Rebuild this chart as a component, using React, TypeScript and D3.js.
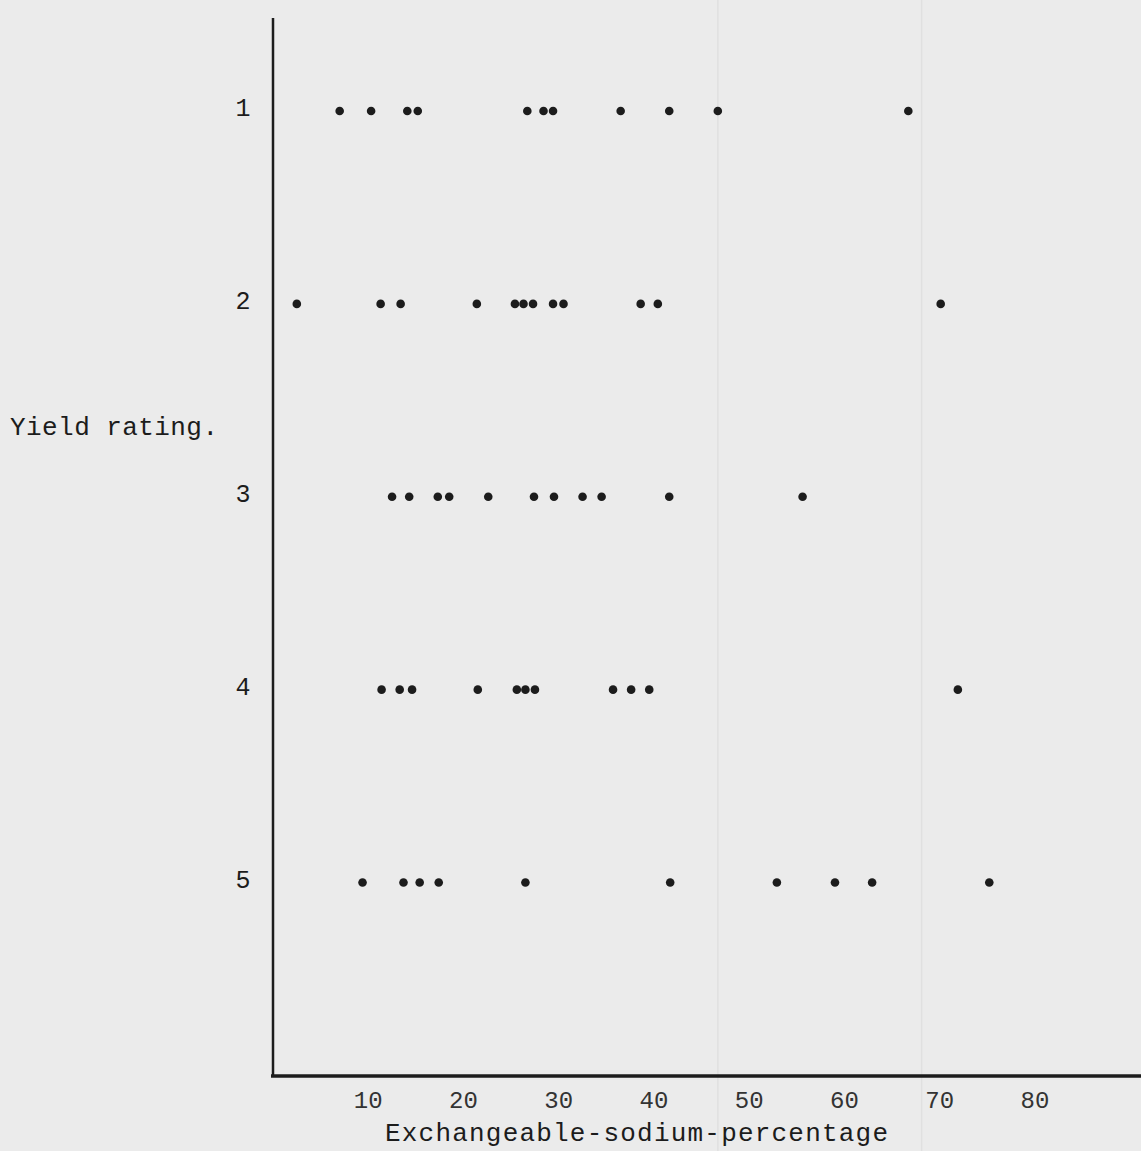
// Scatter of yield rating against exchangeable-sodium-percentage, drawn with d3
import React, { useRef, useEffect } from 'react';
import * as d3 from 'd3';

// x values (ESP) for each yield rating row
const rating1 = [7.0, 10.3, 14.1, 15.2, 26.7, 28.4, 29.4, 36.5, 41.6, 46.7, 66.7];
const rating2 = [2.5, 11.3, 13.4, 21.4, 25.4, 26.3, 27.3, 29.4, 30.5, 38.6, 40.4, 70.1];
const rating3 = [12.5, 14.3, 17.3, 18.5, 22.6, 27.4, 29.5, 32.5, 34.5, 41.6, 55.6];
const rating4 = [11.4, 13.3, 14.6, 21.5, 25.6, 26.5, 27.5, 35.7, 37.6, 39.5, 71.9];
const rating5 = [9.4, 13.7, 15.4, 17.4, 26.5, 41.7, 52.9, 59.0, 62.9, 75.2];

const ratings = [1, 2, 3, 4, 5];
const xTicks = [10, 20, 30, 40, 50, 60, 70, 80];

const width = 1141;
const height = 1151;
const font = '"Liberation Mono", "DejaVu Sans Mono", monospace';
const ink = '#1c1c1c';

export default function App() {
  const ref = useRef<SVGSVGElement>(null);

  useEffect(() => {
    const svg = d3.select(ref.current);
    svg.selectAll('*').remove();

    const rows = [rating1, rating2, rating3, rating4, rating5];
    const points = rows.flatMap((vals, i) => vals.map(v => ({ rating: ratings[i], esp: v })));

    const xScale = d3.scaleLinear().domain([0, 80]).range([273, 1035]);
    const yScale = d3.scaleLinear().domain([1, 5]).range([111, 882.5]);

    // paper
    svg.append('rect')
      .attr('width', width)
      .attr('height', height)
      .attr('fill', '#ebebeb');

    // faint fold lines on the scan
    svg.selectAll('.fold')
      .data([46.7, 68.1])
      .enter()
      .append('line')
      .attr('x1', d => xScale(d))
      .attr('x2', d => xScale(d))
      .attr('y1', 0)
      .attr('y2', height)
      .attr('stroke', '#e0e0e0')
      .attr('stroke-width', 1.5);

    // axes
    svg.append('line')
      .attr('x1', xScale(0))
      .attr('x2', xScale(0))
      .attr('y1', 18)
      .attr('y2', 1077)
      .attr('stroke', ink)
      .attr('stroke-width', 2.5);

    svg.append('line')
      .attr('x1', xScale(0) - 2)
      .attr('x2', width)
      .attr('y1', 1076)
      .attr('y2', 1076)
      .attr('stroke', ink)
      .attr('stroke-width', 3.5);

    // x tick labels
    svg.selectAll('.xtick')
      .data(xTicks)
      .enter()
      .append('text')
      .attr('x', d => xScale(d))
      .attr('y', 1108)
      .attr('text-anchor', 'middle')
      .style('font-family', font)
      .style('font-size', '24px')
      .style('fill', '#333')
      .text(d => d);

    // y tick labels
    svg.selectAll('.ytick')
      .data(ratings)
      .enter()
      .append('text')
      .attr('x', 243)
      .attr('y', d => yScale(d) + 5)
      .attr('text-anchor', 'middle')
      .style('font-family', font)
      .style('font-size', '25px')
      .style('fill', ink)
      .text(d => d);

    // titles
    svg.append('text')
      .attr('x', 10)
      .attr('y', 435)
      .attr('textLength', 208)
      .style('font-family', font)
      .style('font-size', '26px')
      .style('fill', ink)
      .text('Yield rating.');

    svg.append('text')
      .attr('x', 385)
      .attr('y', 1141)
      .attr('textLength', 503)
      .style('font-family', font)
      .style('font-size', '26px')
      .style('fill', ink)
      .text('Exchangeable-sodium-percentage');

    // dots
    svg.selectAll('.dot')
      .data(points)
      .enter()
      .append('circle')
      .attr('cx', d => xScale(d.esp))
      .attr('cy', d => yScale(d.rating))
      .attr('r', 4.3)
      .style('fill', ink);
  }, []);

  return (
    <svg
      ref={ref}
      width={width}
      height={height}
      style={{ position: 'absolute', left: 0, top: 0, display: 'block' }}
    />
  );
}
